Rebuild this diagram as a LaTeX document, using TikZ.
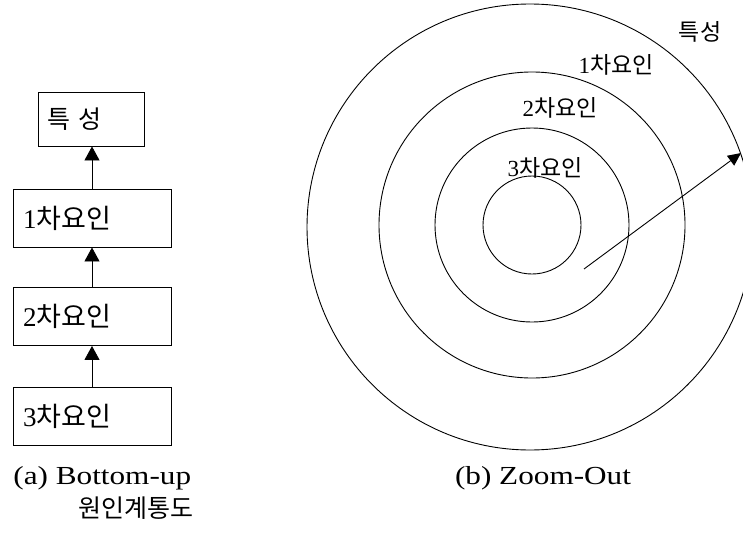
\documentclass[tikz,border=0pt]{standalone}
\usepackage{fontspec}
\setmainfont{Liberation Serif}
\newfontfamily\kr{Noto Sans CJK KR}
\newfontfamily\capfont[FakeStretch=1.2]{Liberation Serif}
\usetikzlibrary{arrows.meta}
\begin{document}
\begin{tikzpicture}[x=1pt,y=-1pt,
  line width=0.9pt,
  boxnode/.style={draw,rectangle,align=left,inner xsep=10pt,inner ysep=0pt,
    text width=138pt,minimum height=58pt,font=\fontsize{27}{30}\selectfont},
  upar/.style={-{Triangle[length=14pt,width=15pt]}},
  ringlabel/.style={font=\fontsize{23}{26}\selectfont,inner sep=0pt},
  captext/.style={font=\capfont\fontsize{26}{30}\selectfont,inner sep=0pt},
  ring/.style={draw}]
\useasboundingbox (0,0) rectangle (743,532);
% left: hierarchy
\node[boxnode,text width=88pt,inner xsep=9pt,minimum height=54pt,font=\fontsize{25}{28}\selectfont] (b0) at (91,119) {{\kr 특 성}};
\node[boxnode] (b1) at (92,218) {1{\kr 차요인}};
\node[boxnode] (b2) at (92,316.5) {2{\kr 차요인}};
\node[boxnode] (b3) at (92,416) {3{\kr 차요인}};
\draw[upar] (b1.north) -- (b1.north |- b0.south);
\draw[upar] (b2.north) -- (b1.south);
\draw[upar] (b3.north) -- (b2.south);
\node[captext,anchor=west] (capa) at (13,478) {(a) Bottom-up};
\node[anchor=west,inner sep=0pt,font=\kr\fontsize{25}{28}\selectfont] (capa2) at (78,508) {원인계통도};
% right: zoom-out rings
\coordinate (c) at (532,225);
\draw[ring] (c) circle[radius=49];
\draw[ring] (c) circle[radius=97];
\draw[ring] (c) circle[radius=153];
\draw[ring] (530,227) circle[radius=223];
\node[ringlabel] (l0) at (700,32) {\kr 특성};
\node[ringlabel] (l1) at (616,65) {1{\kr 차요인}};
\node[ringlabel] (l2) at (560,108) {2{\kr 차요인}};
\node[ringlabel] (l3) at (545,168) {3{\kr 차요인}};
\coordinate (s) at (584,269);
\coordinate (e) at (741,153);
\draw[-{Triangle[length=13pt,width=12pt]}] (s) -- (e);
\node[captext] (capb) at (543,478) {(b) Zoom-Out};
\end{tikzpicture}
\end{document}
